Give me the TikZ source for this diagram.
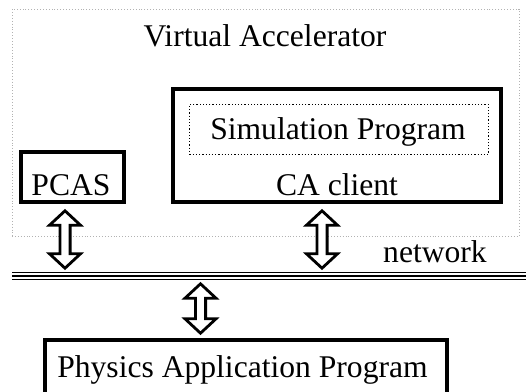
\documentclass[tikz,border=0pt]{standalone}
\usepackage{fontspec}
\setmainfont{Liberation Serif}

\tikzset{
  pics/updown/.style={code={
    % hollow two-headed arrow, tip at (0,0) and (0,#1)
    \draw[line width=2.8pt,fill=white]
      (0,0) -- (-15.6,14.5) -- (-5.1,14.5) -- (-5.1,#1-14.5) -- (-15.6,#1-14.5)
      -- (0,#1) -- (15.6,#1-14.5) -- (5.1,#1-14.5) -- (5.1,14.5) -- (15.6,14.5) -- cycle;
  }}
}

\begin{document}
\begin{tikzpicture}[x=1pt,y=1pt,
  txt/.style={anchor=base,inner sep=0pt,font=\fontsize{31.6}{36}\selectfont},
  thickbox/.style={draw,line width=4pt,inner sep=0pt}]
  \useasboundingbox (0,0) rectangle (526,391);
  \clip (0,0) rectangle (526,391);
  % virtual accelerator frame
  \node[draw=gray!60,dotted,line width=0.9pt,minimum width=507pt,minimum height=227pt]
    (vacc) at (265.5,268.5) {};
  \node[txt] (vacctxt) at (265,344) {Virtual Accelerator};
  % CA client with simulation program inside
  \node[thickbox,minimum width=328pt,minimum height=113pt] (client) at (337,245.5) {};
  \node[draw,dotted,line width=1.2pt,minimum width=299pt,minimum height=50pt] (sim) at (339,261.5) {};
  \node[txt] (simtxt) at (338,251) {Simulation Program};
  \node[txt] (clienttxt) at (337,196) {CA client};
  % PCAS
  \node[thickbox,minimum width=103pt,minimum height=50pt] (pcas) at (72.5,214) {};
  \node[txt] (pcastxt) at (71,196) {PCAS};
  % network bus
  \coordinate (netL) at (12,115);
  \coordinate (netR) at (526,115);
  \foreach \dy in {-3.5,0,3.5}
    \draw[line width=1.3pt] ([yshift=\dy pt]netL) -- ([yshift=\dy pt]netR);
  \node[txt] (nettxt) at (435,129) {network};
  % physics application
  \node[thickbox,minimum width=402pt,minimum height=56pt] (pap) at (246,23) {};
  \node[txt] (paptxt) at (242.5,14) {Physics Application Program};
  % links to the network
  \coordinate (pcaslink) at (65,122.8);
  \coordinate (clientlink) at (322,122.8);
  \coordinate (paplink) at (200.5,57.8);
  \pic at (pcaslink) {updown=57.4};
  \pic at (clientlink) {updown=57.4};
  \pic at (paplink) {updown=49.4};
\end{tikzpicture}
\end{document}
